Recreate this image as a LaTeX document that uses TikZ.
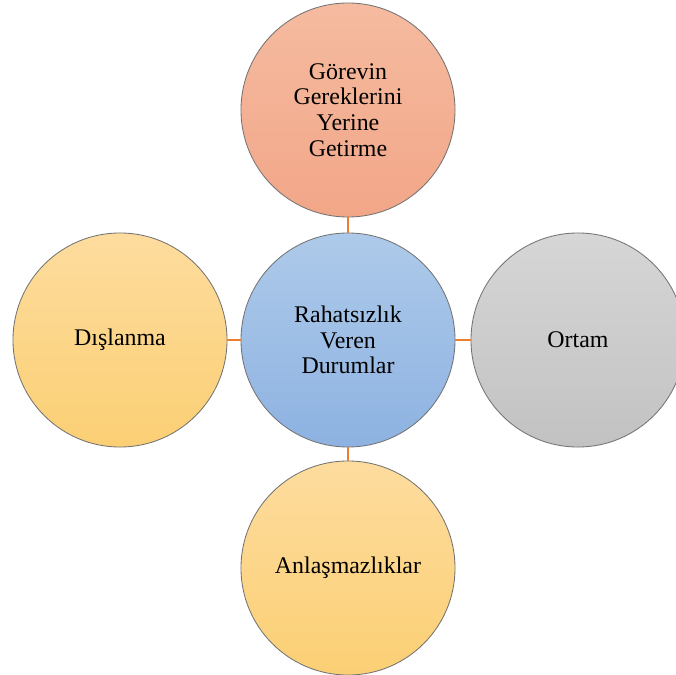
\documentclass[tikz,border=0pt]{standalone}
\usepackage{fontspec}
\setmainfont{Liberation Serif}
\definecolor{salmonTop}{HTML}{F5BBA0}
\definecolor{salmonBot}{HTML}{F2A688}
\definecolor{blueTop}{HTML}{AECAEA}
\definecolor{blueBot}{HTML}{8DB2E1}
\definecolor{sandTop}{HTML}{FDDC9E}
\definecolor{sandBot}{HTML}{FBCF74}
\definecolor{greyTop}{HTML}{D6D6D6}
\definecolor{greyBot}{HTML}{C2C2C2}
\definecolor{linkOrange}{HTML}{ED7D31}
\tikzset{
    bubble/.style={circle, draw=black!55, line width=0.6pt, minimum size=5.35cm,
        inner sep=0pt, align=center, font=\fontsize{17}{18.2}\selectfont},
    link/.style={linkOrange, line width=1.4pt}
}
\begin{document}
\begin{tikzpicture}[x=0.025cm, y=-0.025cm]
    \useasboundingbox (0,0) rectangle (676,675);

    \node[bubble, top color=blueTop, bottom color=blueBot] (center) at (348,340) {Rahatsızlık\\Veren\\Durumlar};
    \node[bubble, top color=salmonTop, bottom color=salmonBot] (gorev) at (348,110) {Görevin\\Gereklerini\\Yerine\\Getirme};
    \node[bubble, top color=sandTop, bottom color=sandBot] (dislanma) at (120,340) {Dışlanma};
    \node[bubble, top color=greyTop, bottom color=greyBot] (ortam) at (578,340) {Ortam};
    \node[bubble, top color=sandTop, bottom color=sandBot] (anlasma) at (348,568) {Anlaşmazlıklar};

    % short links to the middle
    \draw[link] (gorev) -- (center);
    \draw[link] (dislanma) -- (center);
    \draw[link] (ortam) -- (center);
    \draw[link] (anlasma) -- (center);
\end{tikzpicture}
\end{document}
